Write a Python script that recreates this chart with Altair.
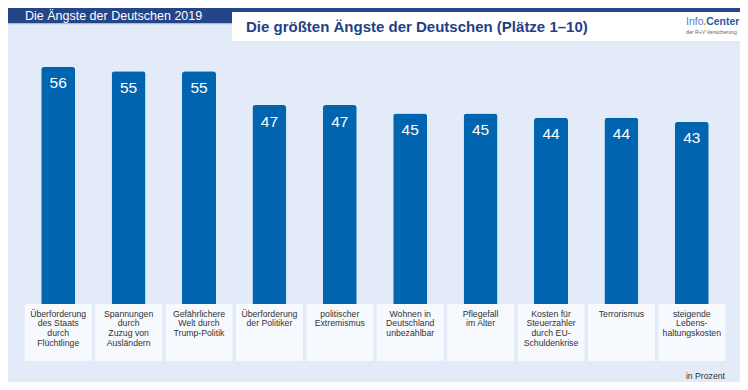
import altair as alt
import pandas as pd

categories = [
    "Überforderung\ndes Staats\ndurch\nFlüchtlinge",
    "Spannungen\ndurch\nZuzug von\nAusländern",
    "Gefährlichere\nWelt durch\nTrump-Politik",
    "Überforderung\nder Politiker",
    "politischer\nExtremismus",
    "Wohnen in\nDeutschland\nunbezahlbar",
    "Pflegefall\nim Alter",
    "Kosten für\nSteuerzahler\ndurch EU-\nSchuldenkrise",
    "Terrorismus",
    "steigende\nLebens-\nhaltungskosten",
]
values = [56, 55, 55, 47, 47, 45, 45, 44, 44, 43]
keys = [f"k{i}" for i in range(len(categories))]

df = pd.DataFrame({"key": keys, "label": categories, "value": values})

FONT = "Liberation Sans"
NAVY = "#254589"
BAR = "#0064B0"

x_enc = alt.X("key:N", sort=None, axis=None,
              scale=alt.Scale(paddingInner=0, paddingOuter=0))
y_scale = alt.Scale(domain=[0, 60])

base = alt.Chart(df)

boxes = base.mark_bar(color="#F6F9FE", size=67).encode(
    x=x_enc, y=alt.value(254), y2=alt.value(311)
)
bars = base.mark_bar(color=BAR, size=34, cornerRadiusTopLeft=3,
                     cornerRadiusTopRight=3).encode(
    x=x_enc, y=alt.Y("value:Q", scale=y_scale, axis=None)
)
vals = base.mark_text(color="white", font=FONT, fontSize=15.5,
                      baseline="alphabetic", dy=21.5).encode(
    x=x_enc, y=alt.Y("value:Q", scale=y_scale, axis=None), text="value:Q"
)
labels = base.mark_text(color="#333333", font=FONT, fontSize=8.7,
                        lineHeight=9.7, lineBreak="\n",
                        baseline="alphabetic", align="center").encode(
    x=x_enc, y=alt.value(266.7), text="label:N"
)

one = pd.DataFrame({"a": [0]})

def rect(x, x2, y, y2, color):
    return alt.Chart(one).mark_rect(color=color).encode(
        x=alt.value(x), x2=alt.value(x2), y=alt.value(y), y2=alt.value(y2)
    )

def txt(s, x, y, size, color, weight="normal", align="left"):
    return alt.Chart(pd.DataFrame({"t": [s]})).mark_text(
        font=FONT, fontSize=size, color=color, fontWeight=weight,
        align=align, baseline="alphabetic"
    ).encode(x=alt.value(x), y=alt.value(y), text="t:N")

band = rect(-30, 740, -60, -26.5, NAVY)
band_line = rect(-30, 740, -26.5, -25, "#D3DEEF")
title_box = rect(209, 740, -38, -9, "white")

header = txt("Die Ängste der Deutschen 2019", 2, -30, 12.5, "white")
title = txt("Die größten Ängste der Deutschen (Plätze 1–10)", 223, -17.7, 15,
            "#1F3F87", weight="bold")
info1 = txt("Info", 663, -25, 10.5, "#5B7FB8")
info2 = txt(".", 680.3, -25, 10.5, "#F39200", weight="bold")
info3 = txt("Center", 683.2, -25, 10.5, "#1E5AA8", weight="bold")
info4 = txt("der R+V Versicherung", 663, -15.7, 5.2, "#666666")
unit = txt("in Prozent", 702, 329.3, 8.7, "#333333", align="right")

chart = alt.layer(
    band, band_line, title_box, header, title, info1, info2, info3, info4,
    boxes, bars, vals, labels, unit
).properties(
    width=704, height=254,
    autosize=alt.AutoSizeParams(type="none"),
    padding={"left": 15, "top": 42, "right": 13, "bottom": 78},
    background="#E2EBF7",
).configure_view(stroke=None)

chart.save("out.html", embed_options={"renderer": "svg", "actions": False})
